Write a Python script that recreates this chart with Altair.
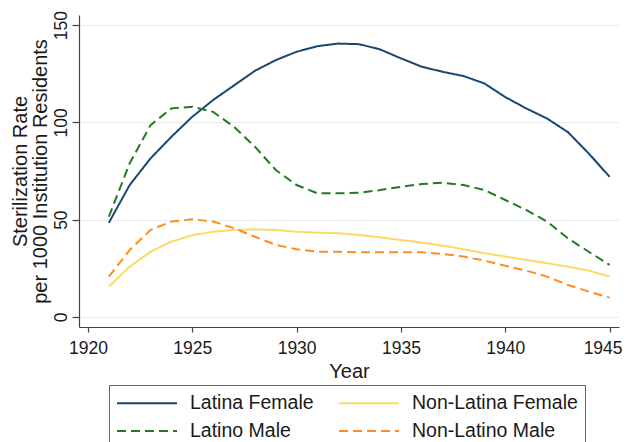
import altair as alt
import pandas as pd

years = list(range(1921, 1946))
latina_female = [48.4, 67.8, 81.5, 92.6, 102.9, 111.5, 119, 126.5, 132, 136.3, 139.2, 140.5, 140.2, 137.5,
                 132.9, 128.6, 126, 123.8, 120, 113, 107.2, 102, 95, 84, 72]
latino_male = [51.5, 79, 98.6, 107.2, 108, 105.4, 97.7, 87.5, 75.5, 67.8, 63.5, 63.5, 63.8, 65.2,
               66.9, 68.3, 69, 67.8, 65.2, 60.1, 55, 49, 40.4, 33.5, 26.7]
nonlatina_female = [15.6, 25.8, 33.5, 38.7, 42, 43.8, 44.7, 45, 44.7, 43.8, 43.3, 43, 42.1, 40.9,
                    39.5, 38.2, 36.6, 34.8, 32.7, 31, 29.3, 27.6, 25.8, 23.8, 20.7]
nonlatino_male = [20.7, 34.4, 44.7, 49, 50.2, 49, 45.6, 41.2, 37, 34.8, 33.5, 33.5, 33.2, 33.2,
                  33.2, 33.2, 32.4, 31, 28.9, 26.3, 23.8, 20.7, 16.4, 13, 9.9]

series_names = ["Latina Female", "Latino Male", "Non-Latina Female", "Non-Latino Male"]
series_colors = ["#1a476f", "#237a23", "#ffd966", "#ff8c1f"]
series_dash = [[1, 0], [9, 5], [1, 0], [9, 5]]
series_values = [latina_female, latino_male, nonlatina_female, nonlatino_male]

x_ticks = [1920, 1925, 1930, 1935, 1940, 1945]
y_ticks = [0, 50, 100, 150]

rows = []
for name, vals in zip(series_names, series_values):
    for y, v in zip(years, vals):
        rows.append({"Year": y, "Rate": v, "Series": name})
df = pd.DataFrame(rows)

FONT = "Liberation Sans"

legend = alt.Legend(title=None, orient="none", legendX=30, legendY=370,
                    values=series_names, columns=2,
                    symbolType="M-3,0L3,0", symbolSize=400, symbolOffset=20,
                    symbolStrokeWidth=2, labelFontSize=19.5, labelOffset=32,
                    columnPadding=21, rowPadding=7, padding=7,
                    strokeColor="#666666", labelColor="#1a1a1a",
                    labelFont=FONT, labelLimit=300)

chart = alt.Chart(df).mark_line(strokeWidth=2).encode(
    x=alt.X("Year:Q",
            scale=alt.Scale(domain=[1919.57, 1945.45], nice=False, zero=False),
            axis=alt.Axis(values=x_ticks, format="d",
                          title="Year", grid=False, tickSize=5, labelPadding=7,
                          labelOffset=alt.condition("datum.value == 1945", alt.value(-7), alt.value(0)),
                          titlePadding=5)),
    y=alt.Y("Rate:Q",
            scale=alt.Scale(domain=[-5.2, 155.2], nice=False, zero=False),
            axis=alt.Axis(values=y_ticks,
                          title=["Sterilization Rate", "per 1000 Institution Residents"],
                          labelAngle=270, labelAlign="center", labelBaseline="alphabetic",
                          tickSize=7, labelPadding=6,
                          titleX=-52.3, titleY=156, titleAngle=270, titleAlign="center",
                          titleBaseline="alphabetic", titleLineHeight=20,
                          grid=True, gridColor="#e6eef0", gridWidth=1)),
    color=alt.Color("Series:N",
                    scale=alt.Scale(domain=series_names, range=series_colors),
                    legend=legend),
    strokeDash=alt.StrokeDash("Series:N",
                              scale=alt.Scale(domain=series_names, range=series_dash),
                              legend=legend),
).properties(
    width=540, height=312,
    autosize=alt.AutoSizeParams(type="none"),
    padding={"left": 71, "top": 7, "right": 4, "bottom": 115},
    background="white",
).configure_view(
    stroke=None
).configure_axis(
    labelFont=FONT, titleFont=FONT, labelFontSize=17.5, titleFontSize=20,
    titleFontWeight="normal", labelColor="#1a1a1a", titleColor="#1a1a1a",
    domainColor="#444444", tickColor="#444444", domainWidth=1.2, tickWidth=1.2,
)

chart.save("out.html", embed_options={"renderer": "svg", "actions": False})
